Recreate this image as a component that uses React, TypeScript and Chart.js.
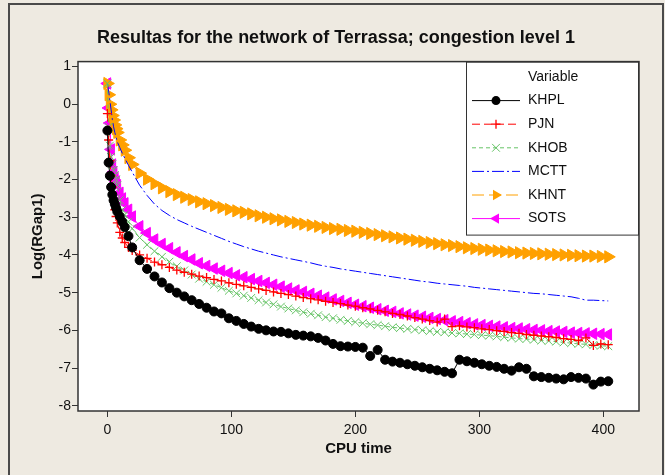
import React, { useEffect, useRef } from 'react';
import { Chart, registerables } from 'chart.js';

Chart.register(...registerables);

const TITLE = 'Resultas for the network of Terrassa; congestion level 1';
const X_TITLE = 'CPU time';
const Y_TITLE = 'Log(RGap1)';
const LEGEND_TITLE = 'Variable';

const X_TICKS = [0, 100, 200, 300, 400];
const Y_TICKS = [-8, -7, -6, -5, -4, -3, -2, -1, 0, 1];

const SERIES_NAMES = ['KHPL', 'PJN', 'KHOB', 'MCTT', 'KHNT', 'SOTS'];

const CPU_TIME = [
  0, 1, 2, 3, 4, 5, 6, 7, 8, 10, 12, 14, 17,
  20, 26, 32, 38, 44, 50, 56, 62, 68, 74, 80, 86, 92, 98, 104, 110, 116, 122, 128, 134,
  140, 146, 152, 158, 164, 170, 176, 182, 188, 194, 200, 206, 212, 218, 224, 230, 236,
  242, 248, 254, 260, 266, 272, 278, 284, 290, 296, 302, 308, 314, 320, 326, 332, 338,
  344, 350, 356, 362, 368, 374, 380, 386, 392, 398, 404,
];

const KHPL = [
  -0.7, -1.55, -1.9, -2.2, -2.4, -2.55, -2.65, -2.75, -2.85, -2.98, -3.12, -3.26, -3.5,
  -3.8, -4.14, -4.37, -4.57, -4.73, -4.88, -5.0, -5.1, -5.2, -5.3,
  -5.4, -5.5, -5.55, -5.68, -5.75, -5.83, -5.9, -5.96, -6.0, -6.03,
  -6.04, -6.08, -6.12, -6.14, -6.16, -6.2, -6.27, -6.36, -6.42, -6.43,
  -6.44, -6.46, -6.68, -6.52, -6.78, -6.83, -6.86, -6.9, -6.94, -6.98,
  -7.02, -7.06, -7.1, -7.14, -6.78, -6.82, -6.86, -6.9, -6.94, -6.97,
  -7.02, -7.07, -6.98, -7.02, -7.22, -7.24, -7.26, -7.28, -7.3, -7.24,
  -7.26, -7.28, -7.44, -7.36, -7.35,
];

const PJN = [
  -0.25, -0.95, -1.5, -1.9, -2.2, -2.55, -2.8, -2.98, -3.15, -3.4, -3.55, -3.67, -3.8,
  -3.88, -4.0, -4.09, -4.19, -4.26, -4.33, -4.4, -4.46, -4.51, -4.56,
  -4.6, -4.65, -4.69, -4.74, -4.78, -4.82, -4.86, -4.9, -4.94, -4.98,
  -5.02, -5.05, -5.09, -5.13, -5.16, -5.19, -5.23, -5.26, -5.29, -5.33,
  -5.36, -5.4, -5.43, -5.47, -5.51, -5.55, -5.58, -5.62, -5.66, -5.7,
  -5.74, -5.78, -5.7, -5.9, -5.88, -5.91, -5.93, -5.96, -5.98, -6.01,
  -6.03, -6.06, -6.08, -6.11, -6.13, -6.15, -6.17, -6.19, -6.22, -6.24,
  -6.27, -6.2, -6.4, -6.36, -6.38,
];

const KHOB = [
  0.55, -0.6, -1.1, -1.4, -1.6, -1.75, -1.88, -2.0, -2.15, -2.55, -2.8, -2.93, -3.12,
  -3.3, -3.54, -3.73, -3.9, -4.05, -4.18, -4.3, -4.41, -4.52, -4.63,
  -4.71, -4.79, -4.87, -4.95, -5.02, -5.08, -5.14, -5.2, -5.26, -5.31,
  -5.37, -5.42, -5.47, -5.52, -5.56, -5.6, -5.65, -5.68, -5.72, -5.75,
  -5.78, -5.81, -5.84, -5.86, -5.89, -5.92, -5.94, -5.96, -5.98, -6.0,
  -6.02, -6.04, -6.05, -6.07, -6.08, -6.1, -6.11, -6.13, -6.14, -6.16,
  -6.18, -6.2, -6.22, -6.23, -6.25, -6.27, -6.28, -6.3, -6.32, -6.34,
  -6.36, -6.37, -6.39, -6.41, -6.42,
];

const MCTT = [
  0.55, 0.35, 0.1, -0.15, -0.4, -0.6, -0.75, -0.88, -1.0, -1.15, -1.3, -1.43, -1.62,
  -1.8, -2.15, -2.42, -2.65, -2.82, -2.95, -3.06, -3.15, -3.24, -3.32,
  -3.4, -3.48, -3.56, -3.64, -3.71, -3.78, -3.84, -3.9, -3.95, -4.0,
  -4.05, -4.09, -4.13, -4.17, -4.21, -4.26, -4.3, -4.33, -4.37, -4.4,
  -4.43, -4.46, -4.49, -4.52, -4.55, -4.58, -4.61, -4.64, -4.67, -4.7,
  -4.72, -4.75, -4.77, -4.79, -4.81, -4.83, -4.86, -4.88, -4.9, -4.92,
  -4.94, -4.96, -4.98, -5.0, -5.02, -5.03, -5.05, -5.07, -5.09, -5.11,
  -5.15, -5.2, -5.2, -5.21, -5.22,
];

const KHNT = [
  0.55, 0.25, 0.0, -0.15, -0.3, -0.42, -0.55, -0.65, -0.75, -0.95, -1.08, -1.22, -1.42,
  -1.6, -1.83, -1.99, -2.11, -2.22, -2.32, -2.4, -2.47, -2.53, -2.59,
  -2.64, -2.69, -2.74, -2.79, -2.83, -2.87, -2.91, -2.96, -3.0, -3.04,
  -3.07, -3.11, -3.14, -3.18, -3.21, -3.24, -3.27, -3.3, -3.32, -3.35,
  -3.37, -3.4, -3.43, -3.46, -3.49, -3.52, -3.55, -3.58, -3.61, -3.64,
  -3.67, -3.7, -3.73, -3.75, -3.78, -3.81, -3.83, -3.85, -3.87, -3.89,
  -3.91, -3.92, -3.94, -3.95, -3.96, -3.97, -3.98, -3.99, -4.0, -4.01,
  -4.02, -4.03, -4.03, -4.04, -4.05,
];

const SOTS = [
  0.55, -0.1, -0.5, -1.2, -1.6, -1.8, -1.95, -2.05, -2.15, -2.35, -2.5, -2.63, -2.8,
  -2.98, -3.24, -3.42, -3.59, -3.71, -3.82, -3.93, -4.03, -4.12, -4.22,
  -4.29, -4.36, -4.42, -4.48, -4.54, -4.59, -4.64, -4.69, -4.74, -4.79,
  -4.84, -4.89, -4.94, -4.98, -5.03, -5.08, -5.13, -5.18, -5.22, -5.27,
  -5.32, -5.36, -5.4, -5.44, -5.48, -5.51, -5.55, -5.58, -5.61, -5.64,
  -5.67, -5.7, -5.73, -5.76, -5.78, -5.81, -5.84, -5.86, -5.88, -5.9,
  -5.92, -5.94, -5.95, -5.97, -5.99, -6.0, -6.02, -6.03, -6.04, -6.06,
  -6.07, -6.08, -6.09, -6.1, -6.11,
];

const SERIES_VALUES = [KHPL, PJN, KHOB, MCTT, KHNT, SOTS];

const STYLES = [
  { color: '#000000', dash: [], point: 'circle', radius: 4.5, rot: 0, pw: 1 },
  { color: '#FF0000', dash: [8, 4], point: 'cross', radius: 4.5, rot: 0, pw: 1.3 },
  { color: '#66C466', dash: [4, 3], point: 'crossRot', radius: 5.5, rot: 0, pw: 1 },
  { color: '#0000FF', dash: [12, 3, 2, 3], point: false, radius: 0, rot: 0, pw: 1 },
  { color: '#FFA000', dash: [12, 5], point: 'triangle', radius: 7, rot: 90, pw: 1 },
  { color: '#FF00FF', dash: [], point: 'triangle', radius: 6.6, rot: -90, pw: 1 },
];

const FONT = '"Liberation Sans", Arial, sans-serif';

function drawMarker(ctx: CanvasRenderingContext2D, style: any, x: number, y: number, r: number, rotDeg: number, color: string, lw: number) {
  if (!style) return;
  ctx.save();
  ctx.setLineDash([]);
  ctx.fillStyle = color;
  ctx.strokeStyle = color;
  ctx.lineWidth = lw;
  ctx.beginPath();
  if (style === 'circle') {
    ctx.arc(x, y, r, 0, Math.PI * 2);
    ctx.fill();
  } else if (style === 'cross') {
    ctx.moveTo(x - r, y); ctx.lineTo(x + r, y);
    ctx.moveTo(x, y - r); ctx.lineTo(x, y + r);
    ctx.stroke();
  } else if (style === 'crossRot') {
    const d = r * Math.SQRT1_2;
    ctx.moveTo(x - d, y - d); ctx.lineTo(x + d, y + d);
    ctx.moveTo(x - d, y + d); ctx.lineTo(x + d, y - d);
    ctx.stroke();
  } else if (style === 'triangle') {
    let rad = (rotDeg * Math.PI) / 180;
    ctx.moveTo(x + Math.sin(rad) * r, y - Math.cos(rad) * r);
    rad += (2 * Math.PI) / 3;
    ctx.lineTo(x + Math.sin(rad) * r, y - Math.cos(rad) * r);
    rad += (2 * Math.PI) / 3;
    ctx.lineTo(x + Math.sin(rad) * r, y - Math.cos(rad) * r);
    ctx.closePath();
    ctx.fill();
  }
  ctx.restore();
}

const plotFramePlugin = {
  id: 'plotFrame',
  beforeDraw(chart: any) {
    const { ctx, chartArea: a } = chart;
    ctx.save();
    ctx.fillStyle = '#FFFFFF';
    ctx.fillRect(a.left, a.top, a.right - a.left, a.bottom - a.top);
    ctx.restore();
  },
  afterDraw(chart: any) {
    const { ctx, chartArea: a } = chart;
    const lx0 = a.right - 173;
    const ly0 = a.top;
    const lx1 = a.right;
    const ly1 = a.top + 174;
    ctx.save();
    ctx.fillStyle = '#FFFFFF';
    ctx.fillRect(lx0, ly0, lx1 - lx0, ly1 - ly0);
    ctx.strokeStyle = '#333333';
    ctx.lineWidth = 1;
    ctx.strokeRect(lx0 + 0.5, ly0 + 0.5, lx1 - lx0 - 1, ly1 - ly0 - 1);
    ctx.fillStyle = '#111111';
    ctx.font = `14px ${FONT}`;
    ctx.textBaseline = 'middle';
    ctx.textAlign = 'left';
    ctx.fillText(LEGEND_TITLE, lx0 + 62, ly0 + 15.5);
    SERIES_NAMES.forEach((name, i) => {
      const st = STYLES[i];
      const y = ly0 + 39 + i * 23.6;
      ctx.save();
      ctx.strokeStyle = st.color;
      ctx.lineWidth = 1;
      ctx.setLineDash(st.dash);
      ctx.beginPath();
      ctx.moveTo(lx0 + 6, y);
      ctx.lineTo(lx0 + 54, y);
      ctx.stroke();
      ctx.restore();
      drawMarker(ctx, st.point, lx0 + 30, y, Math.min(st.radius, 6), st.rot, st.color, st.pw);
      ctx.fillStyle = '#111111';
      ctx.fillText(name, lx0 + 62, y);
    });
    ctx.strokeStyle = '#333333';
    ctx.lineWidth = 1.5;
    ctx.setLineDash([]);
    ctx.strokeRect(a.left, a.top, a.right - a.left, a.bottom - a.top);
    ctx.restore();
  },
};

export default function App() {
  const ref = useRef<HTMLCanvasElement | null>(null);

  useEffect(() => {
    if (!ref.current) return;
    Chart.defaults.font.family = FONT;
    const datasets = SERIES_NAMES.map((name, i) => {
      const st = STYLES[i];
      return {
        label: name,
        data: CPU_TIME.map((t, k) => ({ x: t, y: SERIES_VALUES[i][k] })),
        borderColor: st.color,
        backgroundColor: st.color,
        borderWidth: 1,
        borderDash: st.dash,
        pointStyle: st.point as any,
        pointRadius: st.radius,
        pointRotation: st.rot,
        pointBorderWidth: st.pw,
        pointBackgroundColor: st.color,
        pointBorderColor: st.color,
        tension: 0,
        fill: false,
      };
    });

    const chart = new Chart(ref.current, {
      type: 'line',
      data: { datasets },
      options: {
        responsive: false,
        animation: false,
        devicePixelRatio: 1,
        layout: { padding: { left: 7, right: 0, top: 0, bottom: 0 } },
        plugins: {
          legend: { display: false },
          tooltip: { enabled: false },
          title: {
            display: true,
            text: TITLE,
            color: '#111111',
            font: { size: 18, weight: 'bold', family: FONT },
            padding: { top: 27, bottom: 13 },
          },
        },
        scales: {
          x: {
            type: 'linear',
            min: -23.7,
            max: 428.8,
            afterBuildTicks: (s: any) => { s.ticks = X_TICKS.map((v) => ({ value: v })); },
            afterFit: (s: any) => { s.height = 64; },
            ticks: { color: '#111111', font: { size: 14 }, padding: 5, maxRotation: 0, autoSkip: false },
            grid: { display: true, drawOnChartArea: false, drawTicks: true, tickLength: 6, color: '#333333' },
            border: { display: false },
            title: {
              display: true,
              text: X_TITLE,
              color: '#111111',
              font: { size: 15, weight: 'bold' },
              padding: { top: 0, bottom: 17 },
            },
          },
          y: {
            type: 'linear',
            position: 'left',
            min: -8.14,
            max: 1.13,
            afterBuildTicks: (s: any) => { s.ticks = Y_TICKS.map((v) => ({ value: v })); },
            afterFit: (s: any) => { s.width = 71; },
            ticks: { color: '#111111', font: { size: 14 }, padding: 1, autoSkip: false },
            grid: { display: true, drawOnChartArea: false, drawTicks: true, tickLength: 6, color: '#333333' },
            border: { display: false },
            title: {
              display: true,
              text: Y_TITLE,
              color: '#111111',
              font: { size: 15, weight: 'bold' },
              padding: { top: 22, bottom: 0 },
            },
          },
          yR: {
            type: 'linear',
            position: 'right',
            display: true,
            afterFit: (s: any) => { s.width = 26; },
            ticks: { display: false },
            grid: { display: false },
            border: { display: false },
          },
        },
      },
      plugins: [plotFramePlugin],
    });
    return () => chart.destroy();
  }, []);

  return (
    <div style={{ position: 'fixed', left: 0, top: 0, width: 665, height: 475, background: '#EEEAE1', overflow: 'hidden' }}>
      <div style={{ position: 'absolute', left: 8, top: 3, width: 652, height: 500, borderTop: '2px solid #4a4a4a', borderLeft: '2px solid #4a4a4a', borderRight: '2px solid #4a4a4a' }} />
      <canvas ref={ref} width={665} height={475} style={{ position: 'absolute', left: 0, top: 0, width: 665, height: 475 }} />
    </div>
  );
}
